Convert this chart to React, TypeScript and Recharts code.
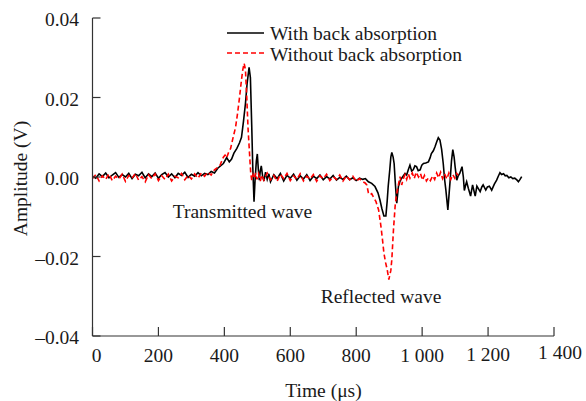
import React from 'react';
import { LineChart, Line, XAxis, YAxis } from 'recharts';

const xTicks = [0, 200, 400, 600, 800, 1000, 1200, 1400];
const xTickLabels = ['0', '200', '400', '600', '800', '1 000', '1 200', '1 400'];
const yTicks = [-0.04, -0.02, 0, 0.02, 0.04];
const yTickLabels = ['–0.04', '–0.02', '0.00', '0.02', '0.04'];
const seriesNames = ['With back absorption', 'Without back absorption'];
const annotations = ['Transmitted wave', 'Reflected wave'];
const axisTitles = ['Time (μs)', 'Amplitude (V)'];

// [time (µs), amplitude (V)]
const withBack: [number, number][] = [
  [0, 0.0002], [10, -0.0003], [20, 0.0008], [30, 0.0001], [40, 0.001], [50, -0.0002], [60, 0.0005], [70, 0.0011], [80, -0.0001], [90, 0.0006],
  [100, 0.0], [110, 0.0009], [120, -0.0004], [130, 0.0007], [140, 0.0003], [150, 0.0012], [160, -0.0002], [170, 0.0008], [180, 0.0001], [190, 0.001],
  [200, -0.0003], [210, 0.0006], [220, 0.0011], [230, 0.0], [240, 0.0008], [250, -0.0002], [260, 0.0009], [270, 0.0004], [280, 0.0012], [290, -0.0001],
  [300, 0.0007], [310, 0.0002], [320, 0.0011], [330, 0.0003], [340, 0.0009], [350, 0.0006], [360, 0.0014], [370, 0.001], [380, 0.0022],
  [397, 0.0034], [407, 0.0049], [415, 0.0038], [422, 0.0045], [429, 0.006], [438, 0.0072], [446, 0.0086], [452, 0.01], [458, 0.014],
  [464, 0.0185], [469, 0.0235], [475, 0.0276], [479, 0.025], [483, 0.013], [486, 0.003], [490, -0.0062], [493, -0.001], [497, 0.004],
  [500, 0.0058], [503, 0.002], [506, -0.0008], [509, 0.0015], [512, 0.0028], [516, 0.0002], [520, -0.001], [525, 0.0012], [530, -0.0006],
  [535, 0.0008], [540, -0.0012], [550, 0.0006], [560, -0.0004], [570, 0.0009], [580, -0.001], [590, 0.0004], [600, -0.0003], [610, 0.0007],
  [620, -0.0008], [630, 0.0003], [640, -0.0005], [650, 0.0006], [660, -0.0009], [670, 0.0002], [680, -0.0004], [690, 0.0005], [700, -0.0007],
  [710, 0.0001], [720, -0.0005], [730, 0.0004], [740, -0.0008], [750, -0.0001], [760, -0.0006], [770, 0.0002], [780, -0.0007], [790, -0.0002],
  [800, -0.0009], [810, -0.0003], [820, -0.0006], [828, -0.0004], [837, -0.0012], [847, -0.0016], [857, -0.0024], [866, -0.004], [872, -0.0058],
  [878, -0.008], [884, -0.0098], [890, -0.0098], [894, -0.006], [897, -0.0024], [902, 0.002], [905, 0.005], [908, 0.0062], [912, 0.005],
  [915, 0.0034], [919, -0.002], [923, -0.0066], [928, -0.0024], [933, -0.001], [938, -0.0003], [948, 0.0009], [953, 0.0005], [958, 0.0018],
  [963, 0.003], [968, 0.0015], [973, 0.0018], [978, 0.0028], [983, 0.0026], [988, 0.0016], [994, 0.0018], [999, 0.003], [1004, 0.0034],
  [1011, 0.0035], [1019, 0.0038], [1024, 0.0048], [1028, 0.0059], [1034, 0.0066], [1039, 0.0076], [1044, 0.0088], [1049, 0.0099], [1054, 0.0093],
  [1059, 0.007], [1064, 0.0034], [1068, -0.0005], [1072, -0.0033], [1078, -0.0083], [1082, -0.004], [1085, -0.0008], [1089, 0.004], [1093, 0.0069],
  [1097, 0.005], [1100, 0.0026], [1105, -0.0008], [1109, 0.0002], [1114, 0.0009], [1121, 0.0026], [1125, 0.0], [1128, -0.0034], [1132, -0.002],
  [1135, -0.0012], [1140, -0.0028], [1147, -0.0048], [1153, -0.002], [1161, -0.0048], [1166, -0.0023], [1171, -0.003], [1176, -0.0037], [1181, -0.0025],
  [1185, -0.002], [1193, -0.0033], [1198, -0.0025], [1204, -0.0023], [1211, -0.0033], [1219, -0.0018], [1226, -0.0008], [1231, 0.0002], [1236, 0.0011],
  [1241, 0.0006], [1247, 0.0008], [1252, 0.0003], [1257, 0.0004], [1263, -0.0002], [1269, 0.0], [1275, -0.0004], [1281, -0.0003], [1288, -0.0008],
  [1292, -0.0012], [1297, -0.0006], [1302, 0.0001],
];

const withoutBack: [number, number][] = [
  [0, -0.0004], [10, 0.0006], [20, -0.001], [30, 0.0003], [40, -0.0006], [50, 0.0008], [60, -0.0009], [70, 0.0002], [80, -0.0005], [90, 0.0007],
  [100, -0.0011], [110, 0.0004], [120, -0.0003], [130, 0.0009], [140, -0.0008], [150, 0.0001], [160, -0.0012], [170, 0.0006], [180, -0.0004], [190, 0.0008],
  [200, -0.0009], [210, 0.0003], [220, -0.0006], [230, 0.0007], [240, -0.001], [250, 0.0002], [260, -0.0002], [270, 0.0009], [280, -0.0007], [290, 0.0004],
  [300, -0.0005], [310, 0.0008], [320, -0.0003], [330, 0.001], [340, 0.0002], [350, 0.0012], [360, 0.0005], [370, 0.0018],
  [386, 0.0028], [397, 0.005], [402, 0.0055], [407, 0.0048], [412, 0.006], [419, 0.0072], [427, 0.0101], [434, 0.0125], [440, 0.016],
  [446, 0.02], [452, 0.0245], [456, 0.027], [460, 0.0286], [464, 0.027], [468, 0.02], [472, 0.012], [477, 0.005], [480, 0.001],
  [483, -0.0008], [487, 0.0006], [491, -0.0004], [495, 0.001], [499, -0.0006], [504, 0.0008], [509, -0.001], [514, 0.0005], [520, -0.0008],
  [530, 0.001], [540, -0.0007], [550, 0.0004], [560, -0.0011], [570, 0.0007], [580, -0.0004], [590, 0.0009], [600, -0.0009], [610, 0.0003],
  [620, -0.0006], [630, 0.0008], [640, -0.001], [650, 0.0002], [660, -0.0005], [670, 0.0006], [680, -0.0011], [690, 0.0003], [700, -0.0004],
  [710, 0.0007], [720, -0.0009], [730, 0.0001], [740, -0.0006], [750, 0.0005], [760, -0.001], [770, 0.0003], [780, -0.0007], [790, 0.0002],
  [800, -0.0011], [810, -0.0004], [820, -0.0012], [827, -0.0015], [832, -0.002], [837, -0.004], [842, -0.0045], [847, -0.0042], [852, -0.005],
  [860, -0.0062], [868, -0.0083], [875, -0.0124], [880, -0.016], [884, -0.0191], [889, -0.0215], [894, -0.0233], [899, -0.0258], [905, -0.0235],
  [908, -0.0208], [913, -0.0133], [918, -0.0074], [922, -0.0045], [925, -0.0033], [929, -0.0015], [933, 0.0001], [938, -0.002], [943, -0.0004],
  [948, 0.0006], [953, -0.0006], [958, 0.0008], [963, -0.0003], [970, 0.001], [976, -0.0004], [982, 0.0012], [989, 0.0], [995, 0.0009],
  [1001, -0.0008], [1007, 0.0004], [1013, -0.001], [1019, -0.0002], [1025, -0.0009], [1032, 0.0003], [1038, -0.0006], [1044, 0.001], [1050, -0.0002],
  [1056, 0.0012], [1062, -0.0004], [1068, 0.0008], [1075, -0.0005], [1081, 0.001], [1087, -0.0006], [1093, 0.0006], [1099, -0.0003], [1105, 0.0009],
  [1109, 0.0004],
];

const FONT = '"Liberation Serif", "Times New Roman", serif';
const FS = 19.5;
const TEXT = '#1a1a1a';
const AXIS = '#333';

const withData = withBack.map(([t, v]) => ({ t, v }));
const withoutData = withoutBack.map(([t, v]) => ({ t, v }));

const XTick = (props: any) => {
  const { x, y, payload } = props;
  const val = payload.value;
  const i = xTicks.indexOf(val);
  const dx = val === 0 ? 4 : val === 1400 ? 6 : 0;
  const dy = val === 1400 ? 22.5 : val === 1200 ? 24.5 : 26;
  return (
    <g>
      <line x1={x} y1={y} x2={x} y2={y - 9} stroke={AXIS} strokeWidth={1.2} />
      <text x={x + dx} y={y + dy} textAnchor="middle" fontFamily={FONT} fontSize={FS} fill={TEXT}>
        {xTickLabels[i]}
      </text>
    </g>
  );
};

const YTick = (props: any) => {
  const { x, y, payload } = props;
  const i = yTicks.findIndex((v) => Math.abs(v - payload.value) < 1e-9);
  return (
    <g>
      <line x1={x} y1={y} x2={x + 8} y2={y} stroke={AXIS} strokeWidth={1.2} />
      <text x={x - 13.5} y={y + 8} textAnchor="end" fontFamily={FONT} fontSize={FS} fill={TEXT}>
        {yTickLabels[i]}
      </text>
    </g>
  );
};

export default function App() {
  return (
    <div style={{ position: 'absolute', left: 0, top: 0, width: 586, height: 401, background: '#fff' }}>
      <LineChart width={586} height={401} margin={{ top: 18, right: 32, bottom: 35, left: 32.5 }}>
        <XAxis
          type="number"
          dataKey="t"
          domain={[0, 1400]}
          ticks={xTicks}
          interval={0}
          height={30}
          tickSize={0}
          tickMargin={0}
          tickLine={false}
          axisLine={{ stroke: AXIS, strokeWidth: 1.2 }}
          tick={<XTick />}
          allowDataOverflow
        />
        <YAxis
          type="number"
          domain={[-0.04, 0.04]}
          ticks={yTicks}
          interval={0}
          width={60}
          tickSize={0}
          tickMargin={0}
          tickLine={false}
          axisLine={{ stroke: AXIS, strokeWidth: 1.2 }}
          tick={<YTick />}
          allowDataOverflow
        />
        <Line
          data={withData}
          dataKey="v"
          name={seriesNames[0]}
          type="linear"
          stroke="#000"
          strokeWidth={1.6}
          dot={false}
          activeDot={false}
          isAnimationActive={false}
        />
        <Line
          data={withoutData}
          dataKey="v"
          name={seriesNames[1]}
          type="linear"
          stroke="#ff0000"
          strokeWidth={1.6}
          strokeDasharray="5 3"
          dot={false}
          activeDot={false}
          isAnimationActive={false}
        />
      </LineChart>
      <svg
        width={586}
        height={401}
        style={{ position: 'absolute', left: 0, top: 0, pointerEvents: 'none' }}
      >
        <line x1={227} y1={33} x2={264} y2={33} stroke="#000" strokeWidth={1.6} />
        <text x={270} y={40} fontFamily={FONT} fontSize={FS} fill={TEXT}>{seriesNames[0]}</text>
        <line x1={227} y1={53} x2={264} y2={53} stroke="#ff0000" strokeWidth={1.6} strokeDasharray="5 3" />
        <text x={270} y={61} fontFamily={FONT} fontSize={FS} fill={TEXT}>{seriesNames[1]}</text>
        <text x={242.5} y={218} textAnchor="middle" fontFamily={FONT} fontSize={FS} fill={TEXT}>{annotations[0]}</text>
        <text x={381} y={303} textAnchor="middle" fontFamily={FONT} fontSize={FS} fill={TEXT}>{annotations[1]}</text>
        <text x={323.5} y={397} textAnchor="middle" fontFamily={FONT} fontSize={FS} fill={TEXT}>{axisTitles[0]}</text>
        <text
          x={0}
          y={0}
          transform="translate(27,178.5) rotate(-90)"
          textAnchor="middle"
          fontFamily={FONT}
          fontSize={FS}
          fill={TEXT}
        >
          {axisTitles[1]}
        </text>
      </svg>
    </div>
  );
}
